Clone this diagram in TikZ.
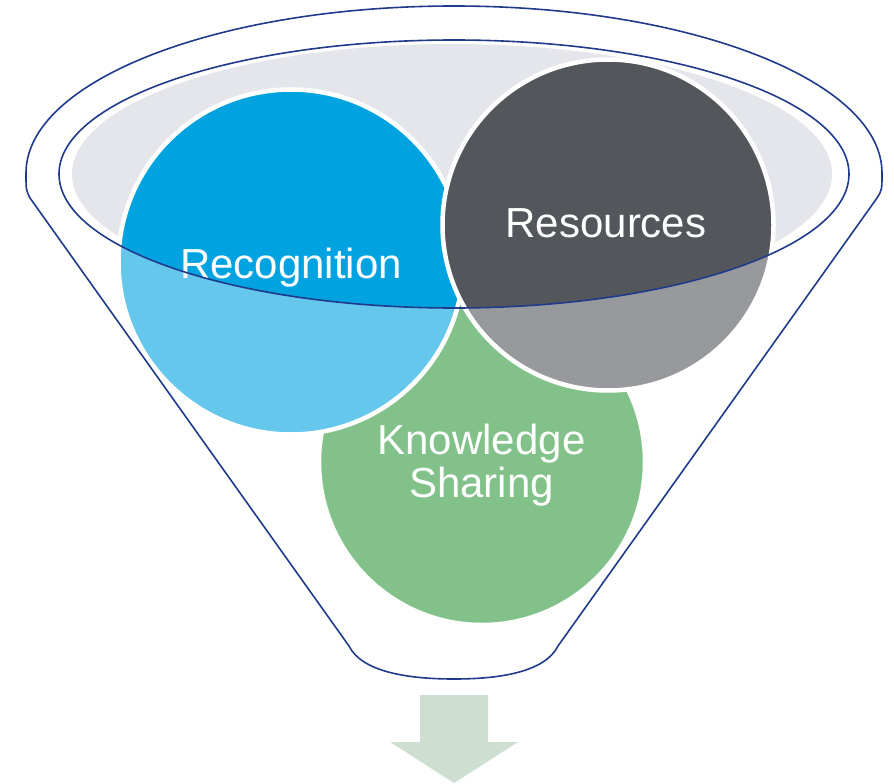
\documentclass[tikz,border=0pt]{standalone}
\usepackage{fontspec}
\setmainfont{Liberation Sans}

\begin{document}
\begin{tikzpicture}[x=1pt,y=-1pt,
  bubble/.style={circle,draw=white,line width=4.5pt,inner sep=0pt},
  word/.style={text=white,inner sep=0pt,align=center,font=\fontsize{42}{43}\selectfont},
  rim/.style={color=funnelblue,line width=1.6pt}]

\definecolor{funnelblue}{RGB}{32,58,140}
\definecolor{mouthgray}{RGB}{229,230,235}
\definecolor{recblue}{RGB}{0,163,224}
\definecolor{resgray}{RGB}{83,86,90}
\definecolor{kgreen}{RGB}{48,153,60}
\definecolor{arrowgreen}{RGB}{206,223,209}

\useasboundingbox (0,0) rectangle (894,784);

% mouth of the funnel
\fill[color=mouthgray] (452,174) ellipse [x radius=380, y radius=130];

% the three circles
\node[bubble,fill=kgreen,minimum size=326pt] (share) at (482,462) {};
\node[word] (sharetext) at (481.5,465) {Knowledge\\Sharing};
\node[bubble,fill=recblue,minimum size=345pt] (recog) at (291,262) {};
\node[word,anchor=base] (recogtext) at (291,278) {Recognition};
\node[bubble,fill=resgray,minimum size=331pt] (res) at (608,225) {};
\node[word,anchor=base] (restext) at (606,237) {Resources};

% body of the funnel, see-through
\fill[white,opacity=0.4,even odd rule]
  (26,173) .. controls (26,80.8) and (217.6,6) .. (454,6)
  .. controls (690.4,6) and (882,80.8) .. (882,173)
  .. controls (882,190) .. (877,198) -- (558,646)
  .. controls (545,672) and (500,679) .. (454,679)
  .. controls (408,679) and (362,672) .. (349,646) -- (30,198)
  .. controls (26,190) .. cycle
  (454,174) ellipse [x radius=395, y radius=134];

% outlines
\draw[rim] (26,173) .. controls (26,80.8) and (217.6,6) .. (454,6)
  .. controls (690.4,6) and (882,80.8) .. (882,173)
  .. controls (882,190) .. (877,198) -- (558,646)
  .. controls (545,672) and (500,679) .. (454,679)
  .. controls (408,679) and (362,672) .. (349,646) -- (30,198)
  .. controls (26,190) .. cycle;
\draw[rim] (454,174) ellipse [x radius=395, y radius=134];

% arrow out of the funnel
\fill[color=arrowgreen] (420,695) -- (488,695) -- (488,742) -- (518,742)
  -- (454,783) -- (390,742) -- (420,742) -- cycle;

\end{tikzpicture}
\end{document}
